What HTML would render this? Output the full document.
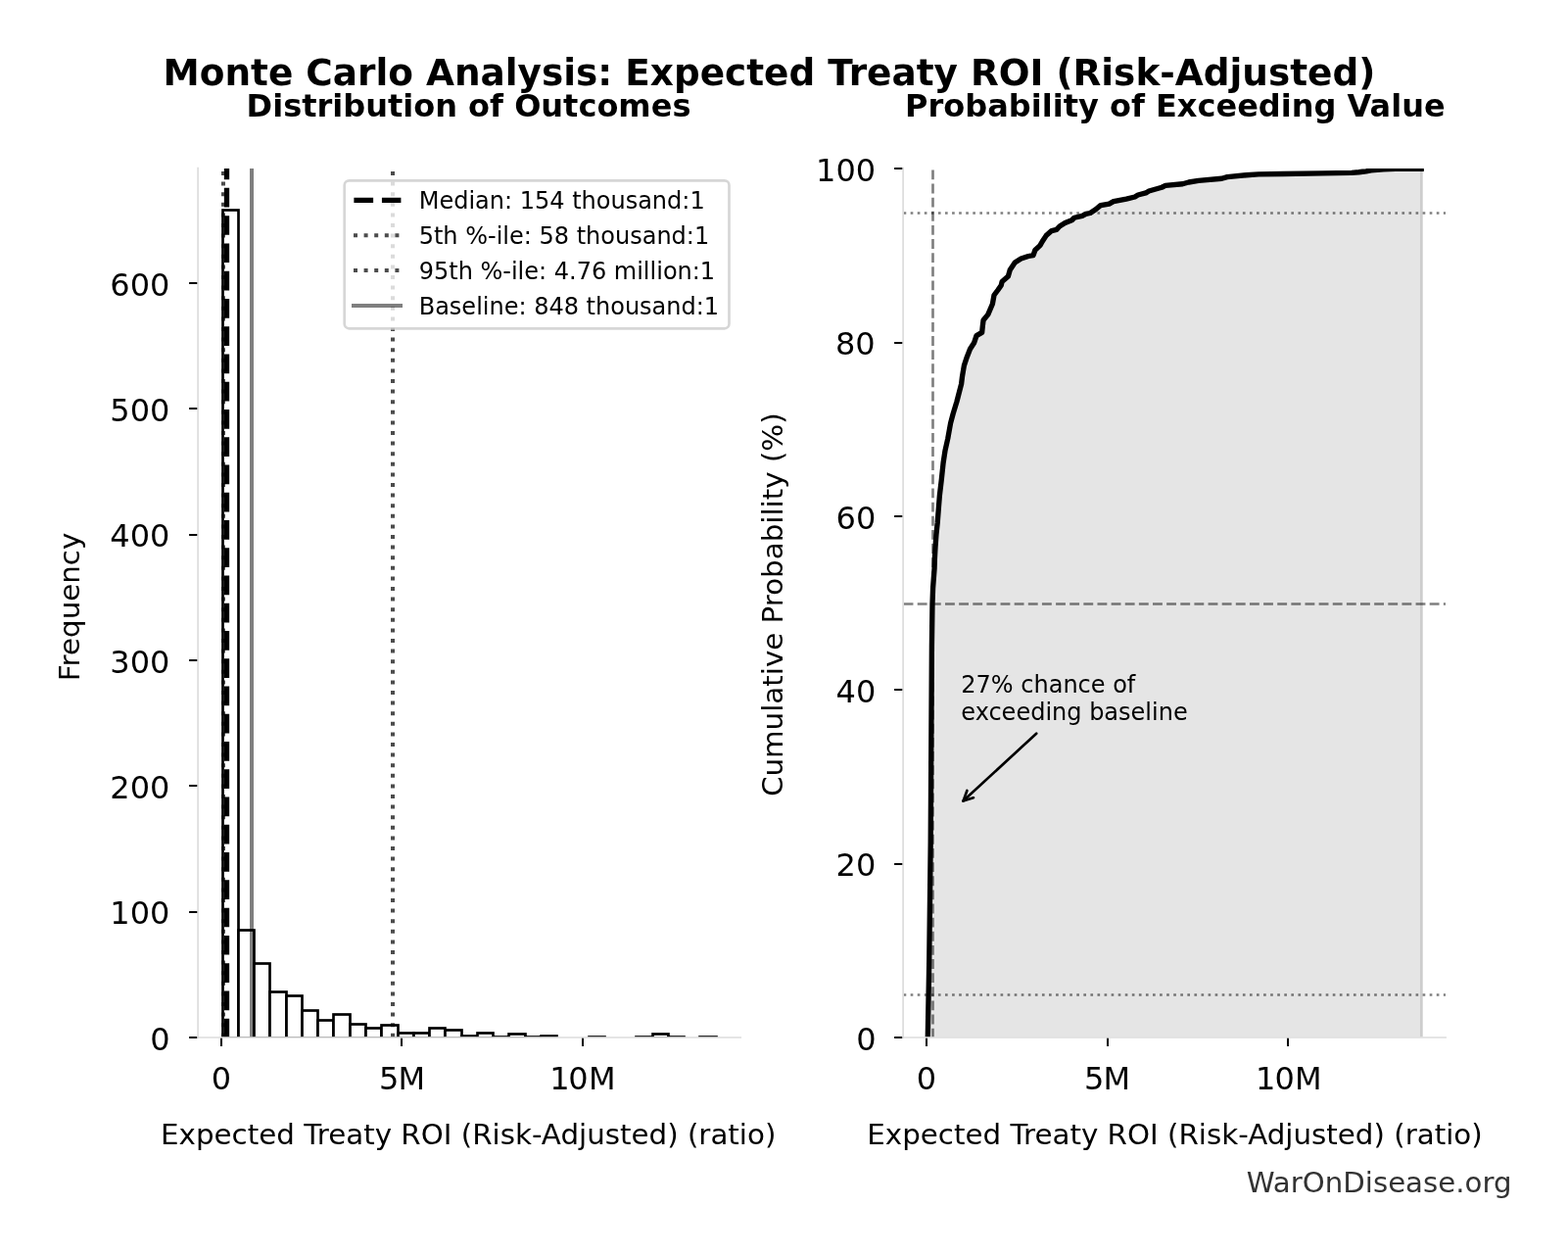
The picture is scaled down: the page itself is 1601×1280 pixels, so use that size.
<!DOCTYPE html>
<html lang="en"><head><meta charset="utf-8">
<title>Monte Carlo Analysis: Expected Treaty ROI (Risk-Adjusted)</title>
<style>
html,body{margin:0;padding:0;background:#fff;}
body{width:1601px;height:1280px;overflow:hidden;}
svg{display:block;}
text{font-family:'DejaVu Sans', 'Liberation Sans', sans-serif;fill:#000;}
.tk{font-size:32px;}
.lb{font-size:29.33px;}
.lg{font-size:24px;}
.tt{font-size:32px;font-weight:bold;}
.st{font-size:37.4px;font-weight:bold;}
</style></head><body>
<svg width="1601" height="1280" viewBox="0 0 1601 1280" role="img" aria-label="Monte Carlo Analysis chart">
<rect x="0" y="0" width="1601" height="1280" fill="#ffffff"/>
<defs>
<clipPath id="cl"><rect x="202.10" y="172.00" width="554.10" height="886.80"/></clipPath>
<clipPath id="cr"><rect x="922.10" y="172.00" width="554.00" height="886.80"/></clipPath>
</defs>
<text class="st" x="166.6" y="87">Monte Carlo Analysis: Expected Treaty ROI (Risk-Adjusted)</text>
<text class="tt" x="251.6" y="118.75">Distribution of Outcomes</text>
<text class="tt" x="924.1" y="118.75">Probability of Exceeding Value</text>
<g clip-path="url(#cl)">
<g fill="#ffffff" stroke="#000000" stroke-width="2.667" stroke-linejoin="miter">
<rect x="227.5" y="214.5" width="16.0" height="845.0"/>
<rect x="243.5" y="949.5" width="16.0" height="110.0"/>
<rect x="259.5" y="983.5" width="16.0" height="76.0"/>
<rect x="275.5" y="1012.5" width="17.0" height="47.0"/>
<rect x="292.5" y="1016.5" width="16.0" height="43.0"/>
<rect x="308.5" y="1031.5" width="16.0" height="28.0"/>
<rect x="324.5" y="1041.5" width="16.0" height="18.0"/>
<rect x="340.5" y="1035.5" width="17.0" height="24.0"/>
<rect x="357.5" y="1045.5" width="16.0" height="14.0"/>
<rect x="373.5" y="1049.5" width="16.0" height="10.0"/>
<rect x="389.5" y="1046.5" width="17.0" height="13.0"/>
<rect x="406.5" y="1054.5" width="16.0" height="5.0"/>
<rect x="422.5" y="1054.5" width="16.0" height="5.0"/>
<rect x="438.5" y="1049.5" width="16.0" height="10.0"/>
<rect x="454.5" y="1051.5" width="17.0" height="8.0"/>
<rect x="471.5" y="1057.5" width="16.0" height="2.0"/>
<rect x="487.5" y="1054.5" width="16.0" height="5.0"/>
<rect x="503.5" y="1058.5" width="16.0" height="1.0"/>
<rect x="519.5" y="1055.5" width="17.0" height="4.0"/>
<rect x="536.5" y="1058.5" width="16.0" height="1.0"/>
<rect x="552.5" y="1057.5" width="16.0" height="2.0"/>
<rect x="601.5" y="1058.5" width="16.0" height="1.0"/>
<rect x="649.5" y="1058.5" width="17.0" height="1.0"/>
<rect x="666.5" y="1055.5" width="16.0" height="4.0"/>
<rect x="682.5" y="1058.5" width="16.0" height="1.0"/>
<rect x="714.5" y="1058.5" width="17.0" height="1.0"/>
</g>
<line x1="231.5" y1="1059.4" x2="231.5" y2="172.0" stroke="#000" stroke-width="5.333" stroke-dasharray="19.73 8.53"/>
<line x1="228" y1="1058.8" x2="228" y2="172.0" stroke="#000" stroke-opacity="0.7" stroke-width="4" stroke-dasharray="4 6.6"/>
<line x1="401" y1="1058.8" x2="401" y2="172.0" stroke="#000" stroke-opacity="0.7" stroke-width="4" stroke-dasharray="4 6.6"/>
<line x1="257" y1="1058.8" x2="257" y2="172.0" stroke="#000" stroke-opacity="0.5" stroke-width="4"/>
</g>
<g stroke="#000" stroke-width="2.00">
<line x1="226.00" y1="1059.00" x2="226.00" y2="1068.00"/>
<line x1="410.00" y1="1059.00" x2="410.00" y2="1068.00"/>
<line x1="595.00" y1="1059.00" x2="595.00" y2="1068.00"/>
<line x1="193.10" y1="1059.00" x2="202.10" y2="1059.00"/>
<line x1="193.10" y1="931.00" x2="202.10" y2="931.00"/>
<line x1="193.10" y1="802.00" x2="202.10" y2="802.00"/>
<line x1="193.10" y1="674.00" x2="202.10" y2="674.00"/>
<line x1="193.10" y1="546.00" x2="202.10" y2="546.00"/>
<line x1="193.10" y1="417.00" x2="202.10" y2="417.00"/>
<line x1="193.10" y1="289.00" x2="202.10" y2="289.00"/>
</g>
<g stroke="#dddddd" stroke-width="1.70" stroke-linecap="square">
<line x1="202.10" y1="171.60" x2="202.10" y2="1059.00"/>
<line x1="202.10" y1="1059.00" x2="756.20" y2="1059.00"/>
</g>
<text class="tk" x="215.8" y="1112">0</text>
<text class="tk" x="387 406.4" y="1112">5M</text>
<text class="tk" x="561.15 580.3 601.1" y="1112">10M</text>
<text class="tk" text-anchor="end" x="173.70" y="1072">0</text>
<text class="tk" text-anchor="end" x="173.40" y="943">100</text>
<text class="tk" text-anchor="end" x="173.40" y="815">200</text>
<text class="tk" text-anchor="end" x="173.40" y="687">300</text>
<text class="tk" text-anchor="end" x="173.40" y="558">400</text>
<text class="tk" text-anchor="end" x="173.40" y="430">500</text>
<text class="tk" text-anchor="end" x="173.40" y="302">600</text>
<rect x="351.7" y="184.4" width="392.8" height="150.9" rx="4.8" ry="4.8" fill="#fff" fill-opacity="0.8" stroke="#ccc" stroke-opacity="0.8" stroke-width="2.667"/>
<line x1="361.4" y1="204.4" x2="409.4" y2="204.4" stroke="#000" stroke-width="5.333" stroke-dasharray="19.73 8.8"/>
<line x1="361" y1="240.2" x2="409" y2="240.2" stroke="#000" stroke-opacity="0.7" stroke-width="4" stroke-dasharray="4 6.6"/>
<line x1="361" y1="276.1" x2="409" y2="276.1" stroke="#000" stroke-opacity="0.7" stroke-width="4" stroke-dasharray="4 6.6"/>
<line x1="359" y1="311.9" x2="411" y2="311.9" stroke="#000" stroke-opacity="0.5" stroke-width="4"/>
<text class="lg" x="427.7" y="213">Median: 154 thousand:1</text>
<text class="lg" x="427.7" y="249">5th %-ile: 58 thousand:1</text>
<text class="lg" x="427.7" y="285">95th %-ile: 4.76 million:1</text>
<text class="lg" x="427.7" y="321">Baseline: 848 thousand:1</text>
<text class="lb" text-anchor="middle" transform="translate(478.2 1168) scale(1 0.975)">Expected Treaty ROI (Risk-Adjusted) (ratio)</text>
<text class="lb" text-anchor="middle" transform="translate(81.2 619.4) rotate(-90) scale(1 0.965)">Frequency</text>
<g clip-path="url(#cr)">
<polygon points="947.30,1058.80 948.75,980.00 950.20,860.00 951.40,660.00 952.00,616.50 952.60,600.00 954.10,580.00 954.40,570.00 955.00,558.75 955.90,546.25 957.20,533.75 958.40,518.10 959.40,505.60 961.25,490.00 963.10,472.50 965.00,460.00 967.80,447.50 970.60,431.90 973.10,422.50 976.90,410.00 978.20,405.00 981.60,391.90 982.50,384.40 984.40,373.10 987.20,364.70 990.50,356.25 994.70,349.70 997.00,342.65 1002.65,339.40 1003.30,333.00 1004.10,326.70 1008.75,321.10 1013.40,310.30 1015.00,301.25 1018.75,296.25 1022.25,291.25 1023.10,287.50 1029.40,281.90 1031.25,275.60 1036.25,268.10 1042.50,264.10 1050.00,261.50 1055.00,260.60 1056.90,255.25 1061.90,250.60 1064.40,246.25 1068.10,240.60 1073.75,235.60 1078.75,234.40 1081.90,231.00 1087.50,227.50 1094.40,224.75 1096.90,222.25 1105.00,220.40 1108.75,218.40 1113.10,217.50 1118.75,213.75 1123.75,209.60 1132.50,208.10 1136.90,205.60 1150.00,203.10 1158.75,201.00 1161.90,199.00 1170.00,196.90 1173.10,195.00 1186.25,191.25 1190.00,189.40 1207.50,187.75 1213.75,186.00 1223.75,184.40 1247.50,182.25 1253.10,180.60 1272.50,178.75 1285.00,177.90 1310.00,177.50 1350.00,176.90 1380.00,176.40 1387.50,175.75 1395.00,174.75 1400.00,173.90 1412.50,172.75 1425.00,172.40 1451.20,172.30 1452.7,172.3 1452.7,1058.8 947.3,1058.8" fill="#000" fill-opacity="0.1"/>
<rect x="1450" y="172.3" width="2.7" height="886.5" fill="#000" fill-opacity="0.1"/>
<g stroke="#000" stroke-opacity="0.5" stroke-width="2.667" fill="none">
<line x1="922.6" y1="217.5" x2="1476.1" y2="217.5" stroke-dasharray="2.667 4.4"/>
<line x1="922.6" y1="616.5" x2="1476.1" y2="616.5" stroke-dasharray="9.867 4.267"/>
<line x1="922.6" y1="1015.5" x2="1476.1" y2="1015.5" stroke-dasharray="2.667 4.4"/>
<line x1="952.5" y1="1059.6" x2="952.5" y2="172.0" stroke-dasharray="9.867 4.267"/>
</g>
<polyline points="947.30,1058.80 948.75,980.00 950.20,860.00 951.40,660.00 952.00,616.50 952.60,600.00 954.10,580.00 954.40,570.00 955.00,558.75 955.90,546.25 957.20,533.75 958.40,518.10 959.40,505.60 961.25,490.00 963.10,472.50 965.00,460.00 967.80,447.50 970.60,431.90 973.10,422.50 976.90,410.00 978.20,405.00 981.60,391.90 982.50,384.40 984.40,373.10 987.20,364.70 990.50,356.25 994.70,349.70 997.00,342.65 1002.65,339.40 1003.30,333.00 1004.10,326.70 1008.75,321.10 1013.40,310.30 1015.00,301.25 1018.75,296.25 1022.25,291.25 1023.10,287.50 1029.40,281.90 1031.25,275.60 1036.25,268.10 1042.50,264.10 1050.00,261.50 1055.00,260.60 1056.90,255.25 1061.90,250.60 1064.40,246.25 1068.10,240.60 1073.75,235.60 1078.75,234.40 1081.90,231.00 1087.50,227.50 1094.40,224.75 1096.90,222.25 1105.00,220.40 1108.75,218.40 1113.10,217.50 1118.75,213.75 1123.75,209.60 1132.50,208.10 1136.90,205.60 1150.00,203.10 1158.75,201.00 1161.90,199.00 1170.00,196.90 1173.10,195.00 1186.25,191.25 1190.00,189.40 1207.50,187.75 1213.75,186.00 1223.75,184.40 1247.50,182.25 1253.10,180.60 1272.50,178.75 1285.00,177.90 1310.00,177.50 1350.00,176.90 1380.00,176.40 1387.50,175.75 1395.00,174.75 1400.00,173.90 1412.50,172.75 1425.00,172.40 1451.20,172.30" fill="none" stroke="#000" stroke-width="5.333" stroke-linejoin="round" stroke-linecap="square"/>
</g>
<g stroke="#000" stroke-width="2.00">
<line x1="946.00" y1="1059.00" x2="946.00" y2="1068.00"/>
<line x1="1131.00" y1="1059.00" x2="1131.00" y2="1068.00"/>
<line x1="1315.00" y1="1059.00" x2="1315.00" y2="1068.00"/>
<line x1="913.10" y1="1059.00" x2="922.10" y2="1059.00"/>
<line x1="913.10" y1="882.00" x2="922.10" y2="882.00"/>
<line x1="913.10" y1="704.00" x2="922.10" y2="704.00"/>
<line x1="913.10" y1="527.00" x2="922.10" y2="527.00"/>
<line x1="913.10" y1="350.00" x2="922.10" y2="350.00"/>
<line x1="913.10" y1="172.00" x2="922.10" y2="172.00"/>
</g>
<g stroke="#dddddd" stroke-width="1.70" stroke-linecap="square">
<line x1="922.10" y1="171.60" x2="922.10" y2="1059.00"/>
<line x1="922.10" y1="1059.00" x2="1476.10" y2="1059.00"/>
</g>
<text class="tk" x="935.8" y="1112">0</text>
<text class="tk" x="1107 1126.45" y="1112">5M</text>
<text class="tk" x="1282.1 1301.55 1322.05" y="1112">10M</text>
<text class="tk" text-anchor="end" x="894.70" y="1072">0</text>
<text class="tk" text-anchor="end" x="894.30" y="894">20</text>
<text class="tk" text-anchor="end" x="894.30" y="717">40</text>
<text class="tk" text-anchor="end" x="894.30" y="540">60</text>
<text class="tk" text-anchor="end" x="893.60" y="362">80</text>
<text class="tk" text-anchor="end" x="894.10" y="185">100</text>
<text class="lg" x="981.3" y="707">27% chance of</text>
<text class="lg" x="981.3" y="735">exceeding baseline</text>
<g stroke="#000" stroke-width="2.667" fill="none" stroke-linecap="round" stroke-linejoin="round">
<line x1="1058.2" y1="748.7" x2="983.5" y2="817.6"/>
<polyline points="987.4,807 983.5,817.6 994,814.25"/>
</g>
<text class="lb" text-anchor="middle" transform="translate(1199.5 1168) scale(1 0.975)">Expected Treaty ROI (Risk-Adjusted) (ratio)</text>
<text class="lb" text-anchor="middle" transform="translate(799.2 617.2) rotate(-90) scale(1 0.965)">Cumulative Probability (%)</text>
<text class="lb" transform="translate(1272.8 1217) scale(0.9967 0.965)" style="fill:#333">WarOnDisease.org</text>
</svg>
</body></html>
